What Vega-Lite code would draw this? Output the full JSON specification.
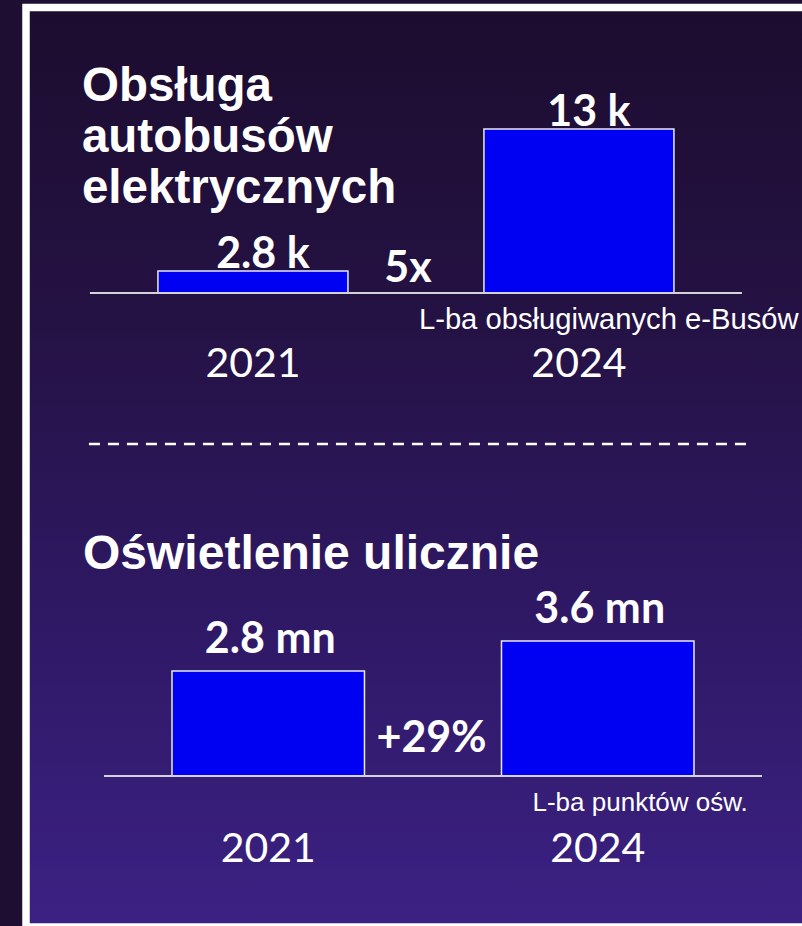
{
  "$schema": "https://vega.github.io/schema/vega-lite/v6.json",
  "width": 802,
  "height": 926,
  "autosize": {"type": "fit", "contains": "padding"},
  "padding": {"left": 26, "top": 7.5, "right": -6, "bottom": -1},
  "background": "#1e0e32",
  "config": {
    "axis": {"disable": true},
    "view": {
      "stroke": "#ffffff",
      "strokeWidth": 7.5,
      "fill": {"gradient": "linear", "x1": 0, "y1": 0, "x2": 0, "y2": 1,
        "stops": [
          {"offset": 0, "color": "#1c0c2e"},
          {"offset": 0.35, "color": "#251245"},
          {"offset": 0.7, "color": "#301968"},
          {"offset": 1, "color": "#3c2184"}
        ]}
    },
    "text": {"color": "#ffffff"}
  },
  "datasets": {
    "ebus": [
      {"year": "2021", "value": 2.8, "label": "2.8 k"},
      {"year": "2024", "value": 13, "label": "13 k"}
    ],
    "light": [
      {"year": "2021", "value": 2.8, "label": "2.8 mn"},
      {"year": "2024", "value": 3.6, "label": "3.6 mn"}
    ]
  },
  "layer": [
    {
      "layer": [
        {
          "data": {"name": "ebus"},
          "mark": {"type": "bar", "fill": "#0000f2", "stroke": "#e8e8f2", "strokeWidth": 1.5},
          "encoding": {
            "x": {"field": "year", "type": "nominal", "axis": null,
              "scale": {"domain": ["2021", "2024"], "paddingInner": 0.4172, "paddingOuter": 0.408, "align": 0.496}},
            "y": {"field": "value", "type": "quantitative", "axis": null,
              "scale": {"domain": [1.22, 13], "range": [285.5, 121.5], "zero": false, "nice": false}},
            "y2": {"datum": 1.22}
          }
        },
        {
          "data": {"values": [{}]},
          "mark": {"type": "rule", "color": "#d4d2dc", "strokeWidth": 2, "xOffset": -68, "x2Offset": 68},
          "encoding": {
            "x": {"datum": "2021", "type": "nominal", "bandPosition": 0},
            "x2": {"datum": "2024", "bandPosition": 1},
            "y": {"datum": 1.22, "type": "quantitative"}
          }
        },
        {
          "data": {"values": [{}]},
          "mark": {"type": "rule", "color": "#ffffff", "strokeWidth": 2.5, "strokeDash": [11, 8], "xOffset": -69, "x2Offset": 79},
          "encoding": {
            "x": {"datum": "2021", "type": "nominal", "bandPosition": 0},
            "x2": {"datum": "2024", "bandPosition": 1},
            "y": {"datum": -9.63, "type": "quantitative"}
          }
        },
        {
          "data": {"name": "ebus"},
          "mark": {"type": "text", "font": "Lato", "fontSize": 43, "fontWeight": "bold", "baseline": "alphabetic", "align": "center", "dy": -3, "dx": 10},
          "encoding": {
            "x": {"field": "year", "type": "nominal"},
            "y": {"field": "value", "type": "quantitative"},
            "text": {"field": "label"}
          }
        },
        {
          "data": {"name": "ebus"},
          "mark": {"type": "text", "font": "Lato", "fontSize": 41, "fontWeight": "normal", "baseline": "alphabetic", "align": "center"},
          "encoding": {
            "x": {"field": "year", "type": "nominal"},
            "y": {"datum": -4.81, "type": "quantitative"},
            "text": {"field": "year"}
          }
        },
        {
          "data": {"values": [{"t": "Obsługa\nautobusów\nelektrycznych"}]},
          "mark": {"type": "text", "font": "Liberation Sans", "fontSize": 47.5, "fontWeight": "bold", "baseline": "alphabetic", "align": "left", "lineBreak": "\n", "lineHeight": 51, "dx": -76},
          "encoding": {
            "x": {"datum": "2021", "type": "nominal", "bandPosition": 0},
            "y": {"datum": 15.01, "type": "quantitative"},
            "text": {"field": "t"}
          }
        },
        {
          "data": {"values": [{"t": "5x"}]},
          "mark": {"type": "text", "font": "Lato", "fontSize": 43, "fontWeight": "bold", "baseline": "alphabetic", "align": "center", "dx": 60},
          "encoding": {
            "x": {"datum": "2021", "type": "nominal", "bandPosition": 1},
            "y": {"datum": 2.01, "type": "quantitative"},
            "text": {"field": "t"}
          }
        },
        {
          "data": {"values": [{"t": "L-ba obsługiwanych e-Busów"}]},
          "mark": {"type": "text", "font": "Liberation Sans", "fontSize": 29.2, "baseline": "alphabetic", "align": "left", "dx": -65},
          "encoding": {
            "x": {"datum": "2024", "type": "nominal", "bandPosition": 0},
            "y": {"datum": -1.37, "type": "quantitative"},
            "text": {"field": "t"}
          }
        }
      ]
    },
    {
      "layer": [
        {
          "data": {"name": "light"},
          "mark": {"type": "bar", "fill": "#0000f2", "stroke": "#e8e8f2", "strokeWidth": 1.5},
          "encoding": {
            "x": {"field": "year", "type": "nominal", "axis": null,
              "scale": {"domain": ["2021", "2024"], "paddingInner": 0.4158, "paddingOuter": 0.3946, "align": 0.5615}},
            "y": {"field": "value", "type": "quantitative", "axis": null,
              "scale": {"domain": [0, 3.6], "range": [768.5, 633.5], "zero": false, "nice": false}},
            "y2": {"datum": 0}
          }
        },
        {
          "data": {"values": [{}]},
          "mark": {"type": "rule", "color": "#d4d2dc", "strokeWidth": 2, "xOffset": -68, "x2Offset": 68},
          "encoding": {
            "x": {"datum": "2021", "type": "nominal", "bandPosition": 0},
            "x2": {"datum": "2024", "bandPosition": 1},
            "y": {"datum": 0, "type": "quantitative"}
          }
        },
        {
          "data": {"name": "light"},
          "mark": {"type": "text", "font": "Lato", "fontSize": 43, "fontWeight": "bold", "baseline": "alphabetic", "align": "center", "dy": -18, "dx": 2},
          "encoding": {
            "x": {"field": "year", "type": "nominal"},
            "y": {"field": "value", "type": "quantitative"},
            "text": {"field": "label"}
          }
        },
        {
          "data": {"name": "light"},
          "mark": {"type": "text", "font": "Lato", "fontSize": 41, "fontWeight": "normal", "baseline": "alphabetic", "align": "center"},
          "encoding": {
            "x": {"field": "year", "type": "nominal"},
            "y": {"datum": -2.293, "type": "quantitative"},
            "text": {"field": "year"}
          }
        },
        {
          "data": {"values": [{"t": "Oświetlenie ulicznie"}]},
          "mark": {"type": "text", "font": "Liberation Sans", "fontSize": 48, "fontWeight": "bold", "baseline": "alphabetic", "align": "left", "dx": -89},
          "encoding": {
            "x": {"datum": "2021", "type": "nominal", "bandPosition": 0},
            "y": {"datum": 5.52, "type": "quantitative"},
            "text": {"field": "t"}
          }
        },
        {
          "data": {"values": [{"t": "+29%"}]},
          "mark": {"type": "text", "font": "Lato", "fontSize": 43, "fontWeight": "bold", "baseline": "alphabetic", "align": "center", "dx": 67},
          "encoding": {
            "x": {"datum": "2021", "type": "nominal", "bandPosition": 1},
            "y": {"datum": 0.64, "type": "quantitative"},
            "text": {"field": "t"}
          }
        },
        {
          "data": {"values": [{"t": "L-ba punktów ośw."}]},
          "mark": {"type": "text", "font": "Liberation Sans", "fontSize": 26, "baseline": "alphabetic", "align": "left", "dx": 31},
          "encoding": {
            "x": {"datum": "2024", "type": "nominal", "bandPosition": 0},
            "y": {"datum": -0.933, "type": "quantitative"},
            "text": {"field": "t"}
          }
        }
      ]
    }
  ],
  "resolve": {"scale": {"x": "independent", "y": "independent"}}
}
